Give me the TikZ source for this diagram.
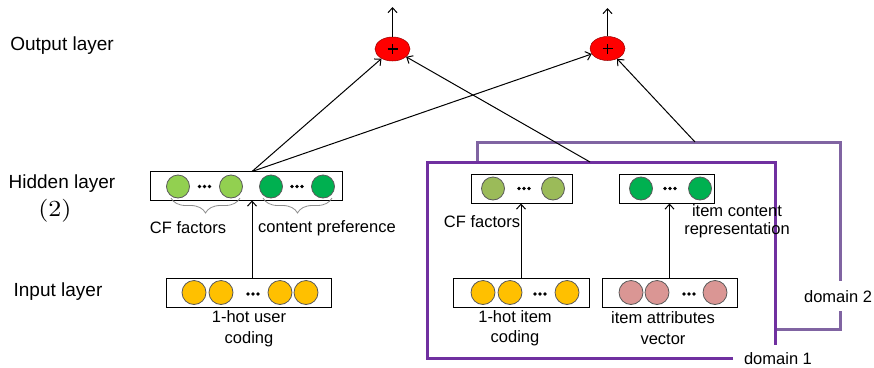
\documentclass[tikz,border=0pt]{standalone}
\usepackage{fontspec}
\setmainfont{Liberation Sans}
\usetikzlibrary{arrows.meta,decorations.pathreplacing,shapes.geometric}
\definecolor{lgreen}{RGB}{146,208,80}
\definecolor{dgreen}{RGB}{0,176,80}
\definecolor{ogreen}{RGB}{155,187,89}
\definecolor{gold}{RGB}{255,192,0}
\definecolor{rose}{RGB}{218,150,148}
\definecolor{domone}{RGB}{112,48,160}
\definecolor{domtwo}{RGB}{128,100,162}
\begin{document}
\begin{tikzpicture}[x=1pt,y=-1pt,
  layerbox/.style={draw=black,line width=0.9pt,minimum height=29pt,inner sep=0pt},
  unit/.style={circle,draw=black!65,line width=0.8pt,minimum size=23pt,inner sep=0pt},
  outnode/.style={ellipse,fill=red,draw=red!60!black,line width=0.5pt,minimum width=35pt,minimum height=24pt,inner sep=0pt},
  arr/.style={-{Straight Barb[length=5pt,width=9pt]},line width=1pt},
  layertext/.style={font=\fontsize{19}{22}\selectfont},
  tag/.style={font=\fontsize{16.5}{20.5}\selectfont,align=center,inner sep=0pt},
  bracegray/.style={draw=black!45,line width=0.8pt,decorate,decoration={brace,mirror,amplitude=15pt,aspect=0.5}},
  domline/.style={line width=3pt,line cap=butt,line join=miter},
  ellip/.pic={\foreach \d in {-5,0,5} \fill (\d,0) circle (1.8pt);}
]
\useasboundingbox (0,0) rectangle (874,367);

% layer captions
\node[layertext] (lout) at (62,46) {Output layer};
\node[layertext] (lhid) at (62,184) {Hidden layer};
\node[inner sep=0pt] (lhidn) at (55,210.5) {\scalebox{2.6}[2.3]{$(2)$}};
\node[layertext] (lin) at (58,292) {Input layer};

% domain frames
\draw[domline,domtwo] (477,162) -- (477,142) -- (840,142) -- (840,281);
\draw[domline,domtwo] (840,311) -- (840,329) -- (775,329);
\draw[domline,domone] (733,358) -- (427,358) -- (427,162) -- (775,162) -- (775,345);
\node[font=\fontsize{16.5}{20.5}\selectfont,inner sep=0pt,anchor=base] (d2) at (838,302) {domain 2};
\node[font=\fontsize{16.5}{20.5}\selectfont,inner sep=0pt,anchor=base] (d1) at (778,364) {domain 1};
\coordinate (d1top) at (590,162);
\coordinate (d2top) at (695,142);

% user side: hidden layer
\node[layerbox,minimum width=192pt] (hbox) at (246,185.5) {};
\node[unit,fill=lgreen] (h1) at (178,186.5) {};
\node[unit,fill=lgreen] (h2) at (231,186.5) {};
\node[unit,fill=dgreen] (h3) at (271,186.5) {};
\node[unit,fill=dgreen] (h4) at (323,186.5) {};
\pic at (204.5,186.5) {ellip};
\pic at (297,186.5) {ellip};
\coordinate (htop) at (252,171.5);
\draw[bracegray] (171,198) -- (240,198);
\draw[bracegray] (263,198) -- (332,198);
\node[tag] (tcf) at (188,228) {CF factors};
\node[tag] (tcp) at (327,228) {content preference};

% user side: input layer
\node[layerbox,minimum width=165pt] (uin) at (248.5,292.5) {};
\node[unit,fill=gold,minimum size=24pt] (u1) at (194,292.5) {};
\node[unit,fill=gold,minimum size=24pt] (u2) at (221,292.5) {};
\node[unit,fill=gold,minimum size=24pt] (u3) at (280,292.5) {};
\node[unit,fill=gold,minimum size=24pt] (u4) at (306,292.5) {};
\pic at (253,294) {ellip};
\node[tag] (tuin) at (249,328.5) {1-hot user\\coding};
\draw[arr] (uin.north -| htop) -- (htop |- hbox.south);

% item side: hidden layer
\node[layerbox,minimum width=101pt] (icf) at (521.5,188.5) {};
\node[unit,fill=ogreen] (c1) at (493,188.5) {};
\node[unit,fill=ogreen] (c2) at (553,188.5) {};
\pic at (524,188.5) {ellip};
\node[layerbox,minimum width=95pt] (icon) at (666.5,188.5) {};
\node[unit,fill=dgreen] (k1) at (641,188.5) {};
\node[unit,fill=dgreen] (k2) at (700,188.5) {};
\pic at (670,188.5) {ellip};
\node[tag] (tcf2) at (482,222) {CF factors};
\node[tag,font=\fontsize{16.5}{18.5}\selectfont] (tic) at (737,221) {item content\\representation};

% item side: input layer
\node[layerbox,minimum width=136pt] (iin) at (521,292.5) {};
\node[unit,fill=gold,minimum size=24pt] (v1) at (483,292.5) {};
\node[unit,fill=gold,minimum size=24pt] (v2) at (510,292.5) {};
\node[unit,fill=gold,minimum size=24pt] (v3) at (567,292.5) {};
\pic at (540,294) {ellip};
\node[layerbox,minimum width=135pt] (attr) at (669.5,292.5) {};
\node[unit,fill=rose,minimum size=24pt] (a1) at (631,292.5) {};
\node[unit,fill=rose,minimum size=24pt] (a2) at (657,292.5) {};
\node[unit,fill=rose,minimum size=24pt] (a3) at (715,292.5) {};
\pic at (689,294) {ellip};
\node[tag] (tiin) at (515,328) {1-hot item\\coding};
\node[tag] (tattr) at (663,328) {item attributes\\vector};
\draw[arr] (iin.north) -- (iin.north |- icf.south);
\draw[arr] (attr.north) -- (attr.north |- icon.south);

% output layer
\node[outnode] (o1) at (392.5,49) {};
\node[outnode] (o2) at (607.5,48.5) {};
\foreach \o in {o1,o2}
  \draw[line width=1.1pt] ([xshift=-5pt]\o.center) -- ([xshift=5pt]\o.center)
                          ([yshift=-5pt]\o.center) -- ([yshift=5pt]\o.center);
\coordinate (o1up) at (392.5,7);
\coordinate (o2up) at (607.5,8);
\draw[arr] (o1.north) -- (o1up);
\draw[arr] (o2.north) -- (o2up);
\draw[arr] (htop) -- (o1);
\draw[arr] (htop) -- (o2);
\draw[arr] (d1top) -- (o1);
\draw[arr] (d2top) -- (o2);
\end{tikzpicture}
\end{document}
